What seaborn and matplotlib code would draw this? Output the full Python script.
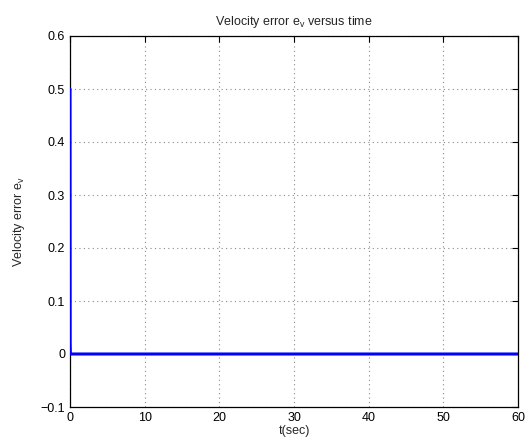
import matplotlib
matplotlib.use("Agg")
import matplotlib.pyplot as plt
import seaborn as sns
import pandas as pd

t_sec = [0.0, 0.02, 0.05, 1.0, 10.0, 20.0, 30.0, 40.0, 50.0, 60.0]
ev = [0.5, 0.02, 0.0, 0.0, 0.0, 0.0, 0.0, 0.0, 0.0, 0.0]
xticks = [0, 10, 20, 30, 40, 50, 60]
yticks = [-0.1, 0, 0.1, 0.2, 0.3, 0.4, 0.5, 0.6]

sns.set_style("white")
plt.rcParams['font.family'] = ['Liberation Sans', 'DejaVu Sans']
plt.rcParams['mathtext.fontset'] = 'custom'
plt.rcParams['mathtext.rm'] = 'Liberation Sans'
plt.rcParams['mathtext.it'] = 'Liberation Sans'

df = pd.DataFrame({"t": t_sec, "ev": ev})
fig = plt.figure(figsize=(5.31, 4.43), dpi=100)
ax = fig.add_axes([70/531, 1-407/443, (518-70)/531, (407-36)/443])
sns.lineplot(data=df, x="t", y="ev", ax=ax, color="#0000ff", linewidth=2.2, estimator=None, sort=False)
for ln in ax.lines:
    ln.set_zorder(5)
ax.set_xlim(0, 60)
ax.set_ylim(-0.1, 0.6)
ax.set_xticks(xticks)
ax.set_yticks(yticks)
ax.set_xticklabels([str(v) for v in xticks])
ax.set_yticklabels(["\u22120.1", "0", "0.1", "0.2", "0.3", "0.4", "0.5", "0.6"])
ax.grid(True, color="#888888", linestyle=(0, (1, 3)), linewidth=0.8)
for s in ax.spines.values():
    s.set_visible(True)
    s.set_color("black")
    s.set_linewidth(0.9)
    s.set_zorder(2)
ax.tick_params(direction="in", length=4, width=0.8, labelsize=9, top=True, right=True, colors="black")
ax.set_xlabel("t(sec)", fontsize=9, labelpad=1)
ax.set_ylabel(r"Velocity error $\mathregular{e_v}$", fontsize=9, labelpad=10)
ax.set_title(r"Velocity error $\mathregular{e_v}$ versus time", fontsize=9, pad=8)
fig.savefig("out.png", dpi=100)
